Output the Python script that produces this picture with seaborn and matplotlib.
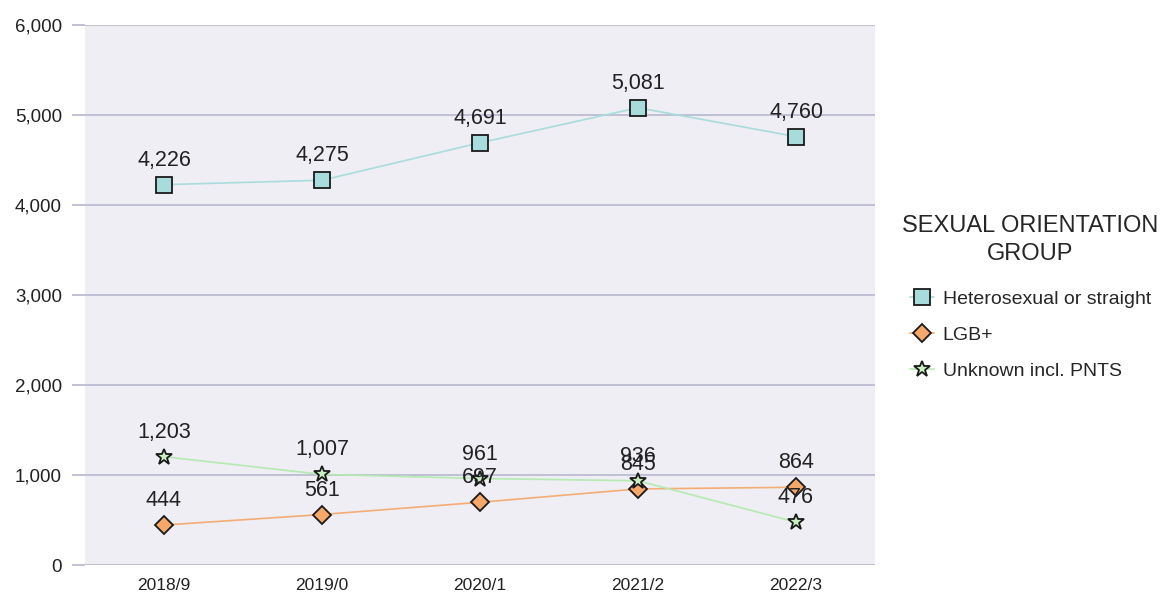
import matplotlib
matplotlib.use("Agg")
import matplotlib.pyplot as plt
import seaborn as sns
import pandas as pd
from matplotlib.ticker import FuncFormatter

years = ["2018/9", "2019/0", "2020/1", "2021/2", "2022/3"]
hetero = [4226, 4275, 4691, 5081, 4760]
lgb = [444, 561, 697, 845, 864]
unknown = [1203, 1007, 961, 936, 476]
series_names = ["Heterosexual or straight", "LGB+", "Unknown incl. PNTS"]
legend_title = "SEXUAL ORIENTATION\nGROUP"
y_ticks = [0, 1000, 2000, 3000, 4000, 5000, 6000]

sns.set_theme(style="white")
plt.rcParams["font.family"] = ["Liberation Sans", "DejaVu Sans"]

grid_col = "#b8b8cf"
styles = [
    dict(values=hetero, line="#a9dcdc", face="#a8dcdc", marker="s", ms=11.5),
    dict(values=lgb, line="#f4ad74", face="#f5a86a", marker="D", ms=9),
    dict(values=unknown, line="#b5eab0", face="#c8f0c0", marker="*", ms=12),
]

fig = plt.figure(figsize=(11.66, 6.06), dpi=100)
ax = fig.add_axes([85 / 1166, 41 / 606, 790 / 1166, 540 / 606])
ax.set_facecolor("#eeeef4")

xs = list(range(len(years)))
for name, st in zip(series_names, styles):
    df = pd.DataFrame({"x": xs, "y": st["values"]})
    sns.lineplot(data=df, x="x", y="y", ax=ax, color=st["line"], lw=1.2,
                 marker=st["marker"], markersize=st["ms"],
                 markerfacecolor=st["face"], markeredgecolor="#1a1a1a",
                 markeredgewidth=1.3, label=name, zorder=3)
    for xi, v in zip(xs, st["values"]):
        ax.annotate(f"{v:,}", (xi, v), xytext=(0, 10), textcoords="offset points",
                    ha="center", va="bottom", fontsize=15.5, color="#222222", zorder=4)

ax.set_xlim(-0.5, len(years) - 0.5)
ax.set_ylim(0, 6000)
ax.set_yticks(y_ticks)
ax.yaxis.set_major_formatter(FuncFormatter(lambda v, p: f"{int(v):,}"))
ax.set_xticks(xs)
ax.set_xticklabels(years)
ax.grid(axis="y", color=grid_col, lw=1.2)
ax.grid(axis="x", visible=False)
ax.set_axisbelow(True)
for s in ax.spines.values():
    s.set_visible(False)
ax.tick_params(axis="y", length=9.5, width=1.2, color=grid_col, pad=7,
               labelsize=13.5, labelcolor="#222222", left=True)
ax.tick_params(axis="x", length=0, pad=9, labelsize=12.5, labelcolor="#222222")
ax.set_xlabel("")
ax.set_ylabel("")

handles, labels = ax.get_legend_handles_labels()
ax.legend_.remove()
leg = fig.legend(handles, labels, title=legend_title, loc="upper left",
                 bbox_to_anchor=(0.767, 0.658), frameon=False, fontsize=14,
                 title_fontsize=17, handlelength=1.25, handletextpad=0.45,
                 labelspacing=0.95, borderaxespad=0)
leg._legend_box.align = "center"
leg._legend_box.sep = 18
leg.get_title().set_multialignment("center")
leg.get_title().set_linespacing(1.35)

fig.savefig("out.png", dpi=100, facecolor="white")
